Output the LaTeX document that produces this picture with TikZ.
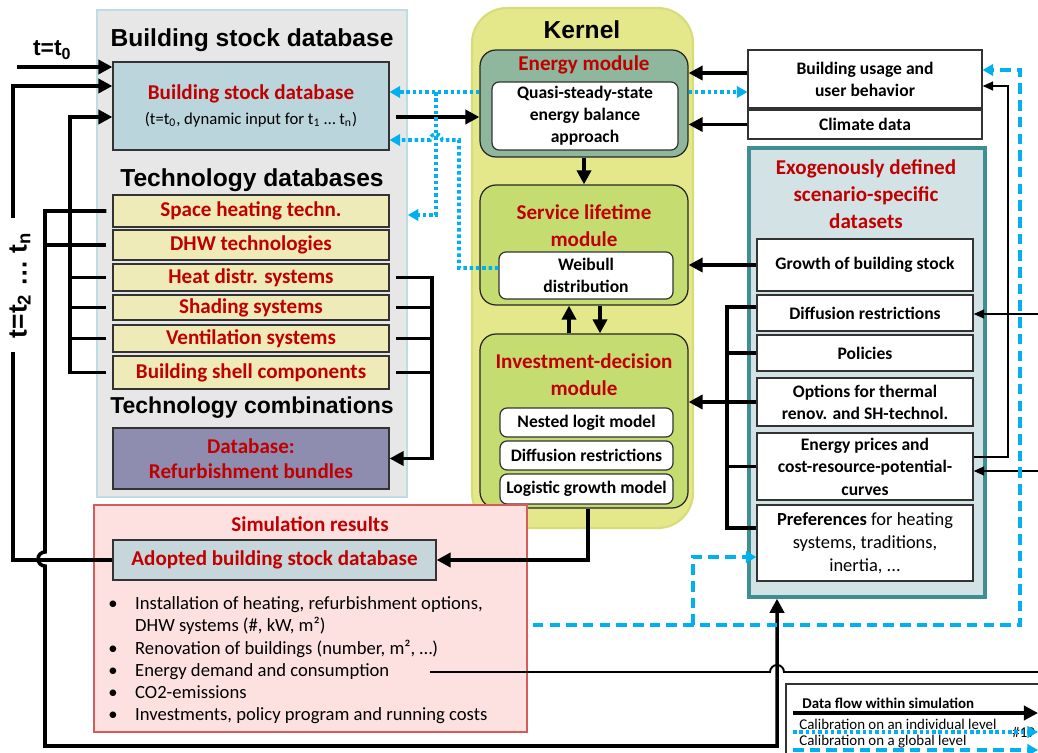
\documentclass[tikz,border=0pt]{standalone}
\usepackage{fontspec}
\setmainfont{Carlito}
\newfontfamily\hdfont{Liberation Sans}
\usepackage{tikz}
\usetikzlibrary{
	arrows.meta,
	positioning
}

\definecolor{dbred}{HTML}{C00000}
\definecolor{panelgray}{HTML}{E7E7E7}
\definecolor{panelline}{HTML}{BCDDE6}
\definecolor{stockfill}{HTML}{BAD5DC}
\definecolor{techfill}{HTML}{EEEBB8}
\definecolor{bundlefill}{HTML}{8E8DB0}
\definecolor{kernelfill}{HTML}{E4E88B}
\definecolor{kernelline}{HTML}{D5DD78}
\definecolor{energyfill}{HTML}{8EB79D}
\definecolor{modfill}{HTML}{C5DD70}
\definecolor{exofill}{HTML}{D3E3E5}
\definecolor{exoline}{HTML}{3E8E94}
\definecolor{simfill}{HTML}{FDE1E1}
\definecolor{simline}{HTML}{D65C5C}
\definecolor{adoptfill}{HTML}{C6D6DA}
\definecolor{calblue}{HTML}{00B0F0}

\begin{document}
\begin{tikzpicture} [
		x = 0.02cm,
		y = -0.02cm,
		header/.style = {
			font = \hdfont\bfseries\fontsize{14}{16}\selectfont
		},
		redtext/.style = {
			text = dbred,
			align = center,
			font = \bfseries\fontsize{12}{15.5}\selectfont
		},
		box/.style = {
			draw = black!80,
			line width = 0.7pt,
			inner sep = 0pt,
			align = center,
			font = \bfseries\fontsize{10}{12.5}\selectfont
		},
		techbox/.style = {
			box,
			fill = techfill,
			minimum width = 5.52cm,
			text = dbred,
			font = \bfseries\fontsize{12}{14}\selectfont
		},
		module/.style = {
			draw = black!85,
			line width = 0.7pt,
			rounded corners = 0.32cm,
			minimum width = 4.16cm
		},
		inbox/.style = {
			box,
			fill = white,
			rounded corners = 0.14cm
		},
		exobox/.style = {
			box,
			fill = white,
			minimum width = 4.32cm
		},
		flow/.style = {
			draw,
			line width = 2pt,
			-{Triangle[length = 8pt, width = 8pt]}
		},
		bus/.style = {
			draw,
			line width = 2pt
		},
		thinflow/.style = {
			draw,
			line width = 1.1pt,
			-{Triangle[length = 6pt, width = 5pt]}
		},
		thinline/.style = {
			draw,
			line width = 1.1pt
		},
		calind/.style = {
			draw = calblue,
			line width = 2pt,
			dash pattern = on 2pt off 1.6pt,
			-{Triangle[length = 6pt, width = 6.5pt]}
		},
		calglob/.style = {
			draw = calblue,
			line width = 1.8pt,
			dash pattern = on 6pt off 3.5pt,
			-{Triangle[length = 6pt, width = 6.5pt]}
		},
		legtext/.style = {
			anchor = west,
			inner sep = 0pt,
			font = \fontsize{8.5}{10}\selectfont
		}
	]

	\useasboundingbox (0,0) rectangle (1038,753);

	\node[draw = panelline, fill = panelgray, line width = 1pt, minimum width = 6.2cm, minimum height = 9.74cm] (stockpanel) at (252,253.5) {};
	\node[header] (stockhead) at (252,40) {Building stock database};
	\node[box, fill = stockfill, minimum width = 5.52cm, minimum height = 1.76cm, font = \bfseries\fontsize{12}{14}\selectfont] (stockdb) at (251,106) {
		\textcolor{dbred}{Building stock database}\\
		{\mdseries\fontsize{9.5}{11}\selectfont (t=t\textsubscript{0}, dynamic input for t\textsubscript{1} … t\textsubscript{n})}
	};

	\node[header] (techhead) at (252,180) {Technology databases};
	\node[techbox, minimum height = 0.64cm] (sht) at (251,211) {Space heating techn.};
	\node[techbox, minimum height = 0.60cm] (dhw) at (251,245) {DHW technologies};
	\node[techbox, minimum height = 0.54cm] (hds) at (251,277.5) {Heat distr. systems};
	\node[techbox, minimum height = 0.50cm] (shd) at (251,307.5) {Shading systems};
	\node[techbox, minimum height = 0.54cm] (ven) at (251,338.5) {Ventilation systems};
	\node[techbox, minimum height = 0.66cm] (shell) at (251,372.5) {Building shell components};

	\node[header, font = \hdfont\bfseries\fontsize{13.1}{15}\selectfont] (combhead) at (252,408) {Technology combinations};
	\node[techbox, fill = bundlefill, minimum height = 1.22cm] (refurb) at (251,458.5) {
		Database:\\
		Refurbishment bundles
	};

	\node[draw = kernelline, fill = kernelfill, line width = 1.2pt, rounded corners = 0.7cm, minimum width = 4.42cm, minimum height = 10.4cm] (kernel) at (582.5,268) {};
	\node[header] (kernelhead) at (582,30) {Kernel};

	\node[module, fill = energyfill, minimum height = 2.14cm] (energy) at (584,103.5) {};
	\node[redtext] (energyhead) at (584,65) {Energy module};
	\node[inbox, minimum width = 3.72cm, minimum height = 1.36cm] (qss) at (585,116) {
		Quasi-steady-state\\
		energy balance\\
		approach
	};

	\node[module, fill = modfill, minimum height = 2.4cm] (service) at (584,245) {};
	\node[redtext] (servicehead) at (584,226) {
		Service lifetime\\
		module
	};
	\node[inbox, minimum width = 3.48cm, minimum height = 0.94cm] (weibull) at (586,275.5) {
		Weibull\\
		distribution
	};

	\node[module, fill = modfill, minimum height = 3.48cm] (invest) at (584,421) {};
	\node[redtext] (investhead) at (584,374.5) {
		Investment-decision\\
		module
	};
	\node[inbox, minimum width = 3.46cm, minimum height = 0.58cm] (nested) at (586.5,422.5) {Nested logit model};
	\node[inbox, minimum width = 3.46cm, minimum height = 0.58cm] (diffr) at (586.5,455.5) {Diffusion restrictions};
	\node[inbox, minimum width = 3.46cm, minimum height = 0.60cm] (logist) at (586.5,489) {Logistic growth model};

	\node[box, fill = white, minimum width = 4.68cm, minimum height = 1.16cm] (usage) at (865,79) {
		Building usage and\\
		user behavior
	};
	\node[box, fill = white, minimum width = 4.68cm, minimum height = 0.58cm] (climate) at (865,124.5) {Climate data};

	\node[draw = exoline, fill = exofill, line width = 2pt, minimum width = 4.72cm, minimum height = 8.98cm] (exo) at (867,372.5) {};
	\node[redtext] (exohead) at (866,194) {
		Exogenously defined\\
		scenario-specific\\
		datasets
	};
	\node[exobox, minimum height = 1.04cm] (growth) at (865,265) {Growth of building stock};
	\node[exobox, minimum height = 0.72cm] (diffus) at (865,313) {Diffusion restrictions};
	\node[exobox, minimum height = 0.72cm] (policies) at (865,353) {Policies};
	\node[exobox, minimum height = 0.96cm] (options) at (865,402) {
		Options for thermal\\
		renov. and SH-technol.
	};
	\node[exobox, minimum height = 1.34cm, font = \bfseries\fontsize{10}{12.8}\selectfont] (prices) at (865,466.5) {
		Energy prices and\\
		cost-resource-potential-\\
		curves
	};
	\node[exobox, minimum height = 1.52cm, font = \mdseries\fontsize{10.5}{13}\selectfont] (prefs) at (865,543) {
		\textbf{Preferences} for heating\\
		systems, traditions,\\
		inertia, ...
	};

	\node[draw = simline, fill = simfill, line width = 1pt, minimum width = 8.66cm, minimum height = 4.54cm] (simres) at (310.5,618.5) {};
	\node[redtext] (simhead) at (310,524) {Simulation results};
	\node[techbox, fill = adoptfill, minimum width = 6.46cm, minimum height = 0.8cm] (adopted) at (274.5,560) {Adopted building stock database};
	\node[anchor = north west, inner sep = 0pt, font = \fontsize{10.6}{12.6}\selectfont] (results) at (108,594) {
		\begin{tabular}{@{}l@{\hspace{10pt}}l@{}}
			\textbullet & Installation of heating, refurbishment options,\\
			            & DHW systems (\#, kW, m²)\\
			\textbullet & Renovation of buildings (number, m², …)\\
			\textbullet & Energy demand and consumption\\
			\textbullet & CO2-emissions\\
			\textbullet & Investments, policy program and running costs
		\end{tabular}
	};

	\node[draw = black!80, line width = 1pt, anchor = north west, minimum width = 5.5cm, minimum height = 2cm] (legend) at (785,683) {};
	\node[legtext, font = \bfseries\fontsize{8.5}{10}\selectfont] (lgflow) at (802,703) {Data flow within simulation};
	\node[legtext] (lgind) at (799,724) {Calibration on an individual level};
	\node[legtext] (lgglob) at (799,742) {Calibration on a global level};
	\node[legtext] (slideno) at (1012,732) {\#19};

	\coordinate (loopbus) at (13,0);
	\coordinate (techbus) at (45,0);
	\coordinate (dynbus) at (70,0);
	\coordinate (refbus) at (432,0);
	\coordinate (exobus) at (727,0);
	\coordinate (tstart) at (17,67);
	\coordinate (upin) at (777,746);
	\coordinate (calsplit) at (436,92);
	\coordinate (calfork) at (693,625);
	\coordinate (edcend) at (430,672);
	\coordinate (edgeE) at (1045,672);
	\coordinate (edgeD) at (1045,314);
	\coordinate (edgeP) at (1045,471);
	\coordinate (lgA) at (793,713);
	\coordinate (lgB) at (793,732);
	\coordinate (lgC) at (793,750);

	\begin{scope}
		\draw[flow] (tstart) -- node[pos = 0.37, above = 3pt, inner sep = 0pt, font = \hdfont\bfseries\fontsize{13}{15}\selectfont] {t=t\textsubscript{0}} (stockdb.west |- tstart);
		\draw[flow] (adopted.west) -- (loopbus |- adopted.west) -- node[pos = 0.58, xshift = 0.14cm, rotate = 90, fill = white, inner xsep = 0.28cm, inner ysep = 1pt, font = \hdfont\bfseries\fontsize{15}{17}\selectfont] {t=t\textsubscript{2} … t\textsubscript{n}} (loopbus |- 0,86) -- (stockdb.west |- 0,86);
		\draw[flow, shorten <= 0.12cm] (shell.west) -- (shell.west -| dynbus) -- (dynbus |- 0,117) -- (stockdb.west |- 0,117);
		\draw[bus, shorten <= 0.12cm] (hds.west) -- (hds.west -| dynbus);
		\draw[bus, shorten <= 0.12cm] (shd.west) -- (shd.west -| dynbus);
		\draw[bus, shorten <= 0.12cm] (ven.west) -- (ven.west -| dynbus);
		\draw[flow, shorten <= 0.12cm] (sht.west) -- (sht.west -| techbus) -- (45,552) arc[start angle = 90, end angle = 270, radius = 0.14cm] -- (upin -| techbus) -- (upin) -- (upin |- exo.south);
		\draw[bus, shorten <= 0.12cm] (dhw.west) -- (dhw.west -| techbus);

		\draw[flow, shorten <= 0.12cm] (hds.east) -- (hds.east -| refbus) -- (refbus |- refurb.east) -- (refurb.east);
		\draw[bus, shorten <= 0.12cm] (shd.east) -- (shd.east -| refbus);
		\draw[bus, shorten <= 0.12cm] (ven.east) -- (ven.east -| refbus);
		\draw[bus, shorten <= 0.12cm] (shell.east) -- (shell.east -| refbus);

		\draw[flow, shorten <= 0.12cm] (stockdb.east |- 0,117) -- (energy.west |- 0,117);
		\draw[flow] (usage.west |- 0,73) -- (energy.east |- 0,73);
		\draw[flow] (climate.west) -- (energy.east |- climate.west);
		\draw[flow] (energy.south) -- (service.north);
		\draw[flow] (invest.north -| 569,0) -- (service.south -| 569,0);
		\draw[flow] (service.south -| 600,0) -- (invest.north -| 600,0);
		\draw[flow] (growth.west) -- (service.east |- growth.west);

		\draw[bus] (diffus.west |- 0,307) -- (exobus |- 0,307) |- (prefs.west |- 0,528);
		\draw[bus] (policies.west) -- (policies.west -| exobus);
		\draw[bus] (prices.west) -- (prices.west -| exobus);
		\draw[flow] (options.west) -- (invest.east |- options.west);

		\draw[flow] ([xshift = 0.08cm]invest.south) |- (adopted.east);
	\end{scope}

	\begin{scope}
		\draw[thinflow] (prices.east |- 0,457) -- (1008,457) -- (1008,86) -- (usage.east |- 0,86);
		\draw[thinflow] (edgeD) -- (diffus.east |- edgeD);
		\draw[thinflow] (edgeP) -- (prices.east |- edgeP);
		\draw[thinline] (edcend) -- (770,672) arc[start angle = 180, end angle = 0, radius = 0.14cm] -- (edgeE);
	\end{scope}

	\begin{scope}
		\draw[calind] (energy.west |- 0,92) -- (stockdb.east |- 0,92);
		\draw[calind] (energy.east |- 0,92) -- (usage.west |- 0,92);
		\draw[calind] (calsplit) -- (436,215) -- (stockpanel.east |- 0,215);
		\draw[calind] (weibull.west |- 0,268) -- (459,268) -- (459,140) -- (442,140) arc[start angle = 0, end angle = 180, radius = 0.12cm] -- (stockdb.east |- 0,140);

		\draw[calglob, shorten <= 0.1cm] (simres.east |- 0,625) -- (1020,625) -- (1020,70) -- (usage.east |- 0,70);
		\draw[calglob] (calfork) -- (693,557) -- (prefs.west |- 0,557);
	\end{scope}

	\draw[flow] (lgA) -- ++(245,0);
	\draw[calind] (lgB) -- ++(245,0);
	\draw[calglob] (lgC) -- ++(245,0);
\end{tikzpicture}
\end{document}
